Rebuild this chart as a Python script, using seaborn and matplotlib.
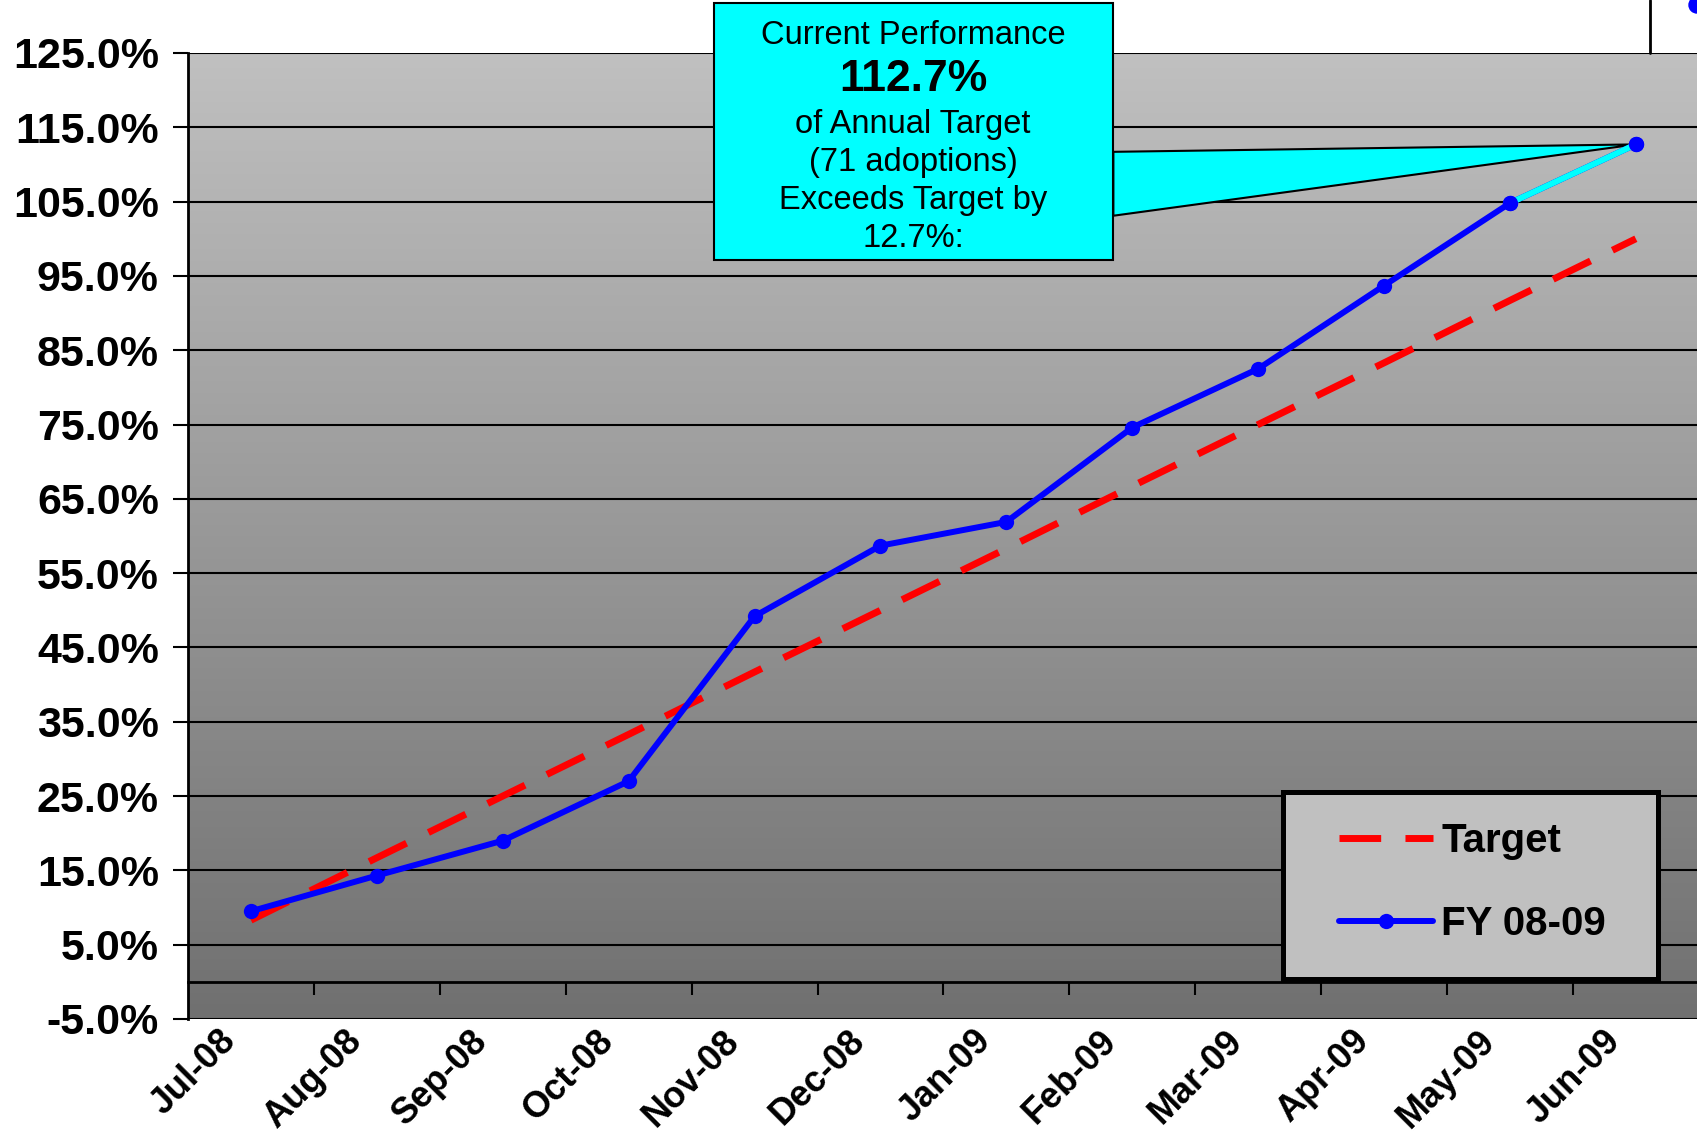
import numpy as np
import matplotlib
matplotlib.use("Agg")
import matplotlib.pyplot as plt
import matplotlib.transforms as mtransforms
from matplotlib.colors import LinearSegmentedColormap
from matplotlib.patches import Rectangle, Polygon, Ellipse
from matplotlib.lines import Line2D
import seaborn as sns

# chart data (percent of annual target)
months = ['Jul-08', 'Aug-08', 'Sep-08', 'Oct-08', 'Nov-08', 'Dec-08',
          'Jan-09', 'Feb-09', 'Mar-09', 'Apr-09', 'May-09', 'Jun-09']
target = [8.3, 16.7, 25.0, 33.3, 41.7, 50.0, 58.3, 66.7, 75.0, 83.3, 91.7, 100.0]
fy0809 = [9.5, 14.3, 19.0, 27.0, 49.2, 58.7, 61.9, 74.6, 82.5, 93.7, 104.8, 112.7]
yticks = [-5, 5, 15, 25, 35, 45, 55, 65, 75, 85, 95, 105, 115, 125]

callout_lines = [("Current Performance", "normal", 23.5),
                 ("112.7%", "bold", 32),
                 ("of Annual Target", "normal", 23.5),
                 ("(71 adoptions)", "normal", 23.5),
                 ("Exceeds Target by", "normal", 23.5),
                 ("12.7%:", "normal", 23.5)]

sns.set_theme(style="white")
plt.rcParams['font.family'] = ['Liberation Sans', 'DejaVu Sans']
plt.rcParams['text.color'] = 'black'
plt.rcParams['xtick.color'] = 'black'
plt.rcParams['ytick.color'] = 'black'
plt.rcParams['axes.labelcolor'] = 'black'

W, H = 1697, 1135
fig = plt.figure(figsize=(W / 100, H / 100), dpi=100)
ax = fig.add_axes([188 / W, 116 / H, 1510.8 / W, 966 / H])

# gradient plot background
bg = LinearSegmentedColormap.from_list('bg', ['#707070', '#C0C0C0'])
grad = np.linspace(0, 1, 256).reshape(-1, 1)
ax.imshow(grad, extent=[0, 1, 0, 1], transform=ax.transAxes, origin='lower',
          aspect='auto', cmap=bg, zorder=0)

# target line (long dash)
sns.lineplot(x=months, y=target, sort=False, color='#FF0000', linewidth=5,
             ax=ax, zorder=3, legend=False)
target_line = ax.lines[-1]
target_line.set_dashes([6, 3.5])

# FY 08-09 line
sns.lineplot(x=months, y=fy0809, sort=False, color='#0000FF', linewidth=4.3,
             marker='o', markersize=11, markeredgewidth=0, ax=ax, zorder=4,
             legend=False)
fy_line = ax.lines[-1]
# last segment shown in cyan
ax.plot(months[-2:], fy0809[-2:], color='#00FFFF', lw=4.3, zorder=4.5,
        solid_capstyle='butt')
ax.plot(months[-2:], fy0809[-2:], lw=0, marker='o', ms=11, mew=0,
        color='#0000FF', zorder=5)

# axes styling
ax.set_yticks(yticks)
ax.set_yticklabels([f"{v:.1f}%" for v in yticks], fontsize=31, fontweight='bold',
                   color='black')
ax.grid(axis='y', color='black', lw=1.5)
ax.grid(axis='x', visible=False)
ax.set_axisbelow(True)
ax.tick_params(axis='y', direction='out', length=11, width=1.5, color='black', pad=10,
               left=True)

for s in ['top', 'right']:
    ax.spines[s].set_visible(False)
ax.spines['left'].set_color('black')
ax.spines['left'].set_linewidth(2)
ax.spines['bottom'].set_position(('data', 0))
ax.spines['bottom'].set_color('black')
ax.spines['bottom'].set_linewidth(2)

ax.set_xticks(range(len(months)))
ax.set_xticklabels(months, rotation=45, ha='right', va='top', rotation_mode='anchor',
                   fontsize=26, fontweight='bold', color='black')
ax.set_xticks(np.arange(0.5, len(months) - 1, 1), minor=True)
ax.tick_params(axis='x', which='major', length=0, pad=30, bottom=True)
ax.tick_params(axis='x', which='minor', length=9, width=1.5, direction='out',
               color='black', bottom=True)
shift = mtransforms.ScaledTranslation(-0.33, 0, fig.dpi_scale_trans)
for lab in ax.get_xticklabels():
    lab.set_transform(lab.get_transform() + shift)

ax.set_xlabel('')
ax.set_ylabel('')

# legend: square frame drawn separately, entries centred in it
ax.add_patch(Rectangle((0.7248, 0.0414), 0.9730 - 0.7248, 0.235 - 0.0414,
                       transform=ax.transAxes, fc='#C0C0C0', ec='black', lw=3.6,
                       zorder=9, clip_on=False))
leg = ax.legend([target_line, fy_line], ['Target', 'FY 08-09'], loc='center',
                bbox_to_anchor=(0.8502, 0.1413), prop={'weight': 'bold', 'size': 29},
                frameon=False, borderpad=0, labelspacing=1.1, handlelength=2.35,
                handletextpad=0.2, borderaxespad=0, labelcolor='black')
leg.set_zorder(10)

# callout
apex = (len(months) - 1, fy0809[-1])
wedge = Polygon([(6.85, 111.7), apex, (6.85, 103.1)], closed=True, fc='#00FFFF',
                ec='black', lw=1.5, zorder=3.5, clip_on=False)
ax.add_patch(wedge)
box = Rectangle((3.68, 97.1), 6.85 - 3.68, 131.7 - 97.1, fc='#00FFFF', ec='black',
                lw=1.5, zorder=6, clip_on=False)
ax.add_patch(box)
text_y = [127.4, 121.5, 115.4, 110.3, 105.2, 100.1]
for (txt, weight, size), ty in zip(callout_lines, text_y):
    ax.text(5.26, ty, txt, ha='center', va='center', fontsize=size,
            fontweight=weight, color='black', zorder=7, clip_on=False)

ax.set_xlim(-0.5, 11.5)
ax.set_ylim(-5, 125)

# edge of a neighbouring element cut off at the top right
fig.add_artist(Line2D([1650 / W, 1650 / W], [1 - 53 / H, 1], transform=fig.transFigure,
                      color='black', lw=2))
fig.add_artist(Ellipse((1.0, 1 - 5 / H), 16 / W, 16 / H, transform=fig.transFigure,
                       color='#0000FF'))

fig.savefig('out.png', dpi=100)
